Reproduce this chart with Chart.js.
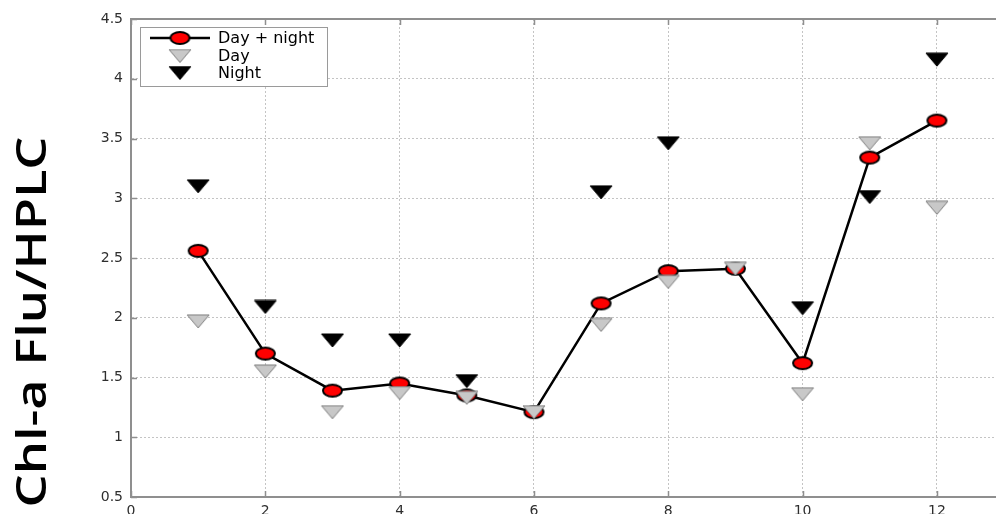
<!DOCTYPE html>
<html>
<head>
<meta charset="utf-8">
<script src="https://cdn.jsdelivr.net/npm/chart.js@4.4.1/dist/chart.umd.min.js"></script>
<style>
  html, body { margin: 0; padding: 0; background: #ffffff; overflow: hidden; }
</style>
</head>
<body>
<canvas id="chlChart" width="996" height="514"></canvas>
<script>
// values (ratio of fluorometer chl-a to HPLC chl-a)
const months = [1, 2, 3, 4, 5, 6, 7, 8, 9, 10, 11, 12];
const dayNightRatio = [2.56, 1.70, 1.39, 1.45, 1.35, 1.21, 2.12, 2.39, 2.41, 1.62, 3.34, 3.65];
const dayRatio = [1.97, 1.55, 1.21, 1.37, 1.33, 1.21, 1.94, 2.30, 2.41, 1.36, 3.46, 2.92];
const nightRatio = [3.10, 2.09, 1.81, 1.81, 1.47, null, 3.05, 3.46, null, 2.08, 3.01, 4.16];
const xTickValues = [0, 2, 4, 6, 8, 10, 12];
const yTickValues = [0.5, 1, 1.5, 2, 2.5, 3, 3.5, 4, 4.5];
const seriesNames = ['Day + night', 'Day', 'Night'];
const yTitle = 'Chl-a Flu/HPLC';

const tickColor = '#2e2e2e';
const axisColor = '#8f8f8f';
const gridColor = '#c4c4c4';

function toPoints(values) {
    return months.map((m, i) => ({ x: m, y: values[i] })).filter(p => p.y !== null);
}

// MATLAB-like markers, a bit stretched like the source picture
function ellipseMarker(w, h) {
    const c = document.createElement('canvas');
    c.width = w + 4;
    c.height = h + 4;
    const g = c.getContext('2d');
    g.beginPath();
    g.ellipse(c.width / 2, c.height / 2, w / 2, h / 2, 0, 0, Math.PI * 2);
    g.fillStyle = '#ff0000';
    g.fill();
    g.lineWidth = 2;
    g.strokeStyle = '#000000';
    g.stroke();
    return c;
}

function triangleMarker(w, h, fill, stroke) {
    const c = document.createElement('canvas');
    c.width = w + 2;
    c.height = h + 2;
    const g = c.getContext('2d');
    g.beginPath();
    g.moveTo(1, 1);
    g.lineTo(w + 1, 1);
    g.lineTo(w / 2 + 1, h + 1);
    g.closePath();
    g.fillStyle = fill;
    g.fill();
    g.lineWidth = 1;
    g.strokeStyle = stroke;
    g.stroke();
    return c;
}

const redDot = ellipseMarker(19, 12);
const dayTri = triangleMarker(22, 13, '#c8c8c8', '#7c7c7c');
const nightTri = triangleMarker(22, 13, '#000000', '#000000');

// frame top line + inward tick marks
const framePlugin = {
    id: 'frame',
    beforeDatasetsDraw(chart) {
        const { ctx, chartArea, scales } = chart;
        ctx.save();
        ctx.strokeStyle = axisColor;
        ctx.lineWidth = 2;
        ctx.beginPath();
        ctx.moveTo(chartArea.left, chartArea.top);
        ctx.lineTo(chartArea.right, chartArea.top);
        ctx.stroke();
        ctx.lineWidth = 1.5;
        ctx.beginPath();
        xTickValues.forEach(v => {
            const px = Math.round(scales.x.getPixelForValue(v)) + 0.5;
            ctx.moveTo(px, chartArea.bottom);
            ctx.lineTo(px, chartArea.bottom - 6);
            ctx.moveTo(px, chartArea.top);
            ctx.lineTo(px, chartArea.top + 6);
        });
        yTickValues.forEach(v => {
            const py = Math.round(scales.y.getPixelForValue(v)) + 0.5;
            ctx.moveTo(chartArea.left, py);
            ctx.lineTo(chartArea.left + 6, py);
        });
        ctx.stroke();
        ctx.restore();
    }
};

// boxed legend in the upper left corner, MATLAB style
const legendPlugin = {
    id: 'boxLegend',
    afterDraw(chart) {
        const { ctx, chartArea } = chart;
        const bx = chartArea.left + 9;
        const by = chartArea.top + 8;
        const bw = 187;
        const bh = 59;
        const rows = [by + 11, by + 29, by + 46];
        const sampleX = bx + 40;
        ctx.save();
        ctx.fillStyle = '#ffffff';
        ctx.fillRect(bx, by, bw, bh);
        ctx.strokeStyle = '#9a9a9a';
        ctx.lineWidth = 1;
        ctx.strokeRect(bx + 0.5, by + 0.5, bw, bh);

        ctx.strokeStyle = '#000000';
        ctx.lineWidth = 2.5;
        ctx.beginPath();
        ctx.moveTo(bx + 10, rows[0]);
        ctx.lineTo(bx + 70, rows[0]);
        ctx.stroke();
        const samples = [redDot, dayTri, nightTri];
        samples.forEach((img, i) => {
            ctx.drawImage(img, sampleX - img.width / 2, rows[i] - img.height / 2);
        });

        ctx.fillStyle = '#000000';
        ctx.font = '16px "DejaVu Sans"';
        ctx.textBaseline = 'middle';
        ctx.textAlign = 'left';
        seriesNames.forEach((name, i) => ctx.fillText(name, bx + 78, rows[i] + 1));
        ctx.restore();
    }
};

// big rotated y title, sits lower than the plot centre in the source
const yTitlePlugin = {
    id: 'yTitle',
    afterDraw(chart) {
        const ctx = chart.ctx;
        ctx.save();
        ctx.font = '600 42px "Open Sans"';
        const w = ctx.measureText(yTitle).width;
        ctx.translate(46, 322);
        ctx.rotate(-Math.PI / 2);
        ctx.scale(371 / w, 1);
        ctx.fillStyle = '#000000';
        ctx.textAlign = 'center';
        ctx.textBaseline = 'alphabetic';
        ctx.fillText(yTitle, 0, 0);
        ctx.restore();
    }
};

const tickFont = { family: '"DejaVu Sans", sans-serif', size: 14, lineHeight: 1 };

const config = {
    type: 'scatter',
    data: {
        datasets: [
            {
                label: seriesNames[0],
                data: toPoints(dayNightRatio),
                showLine: true,
                borderColor: '#000000',
                borderWidth: 2.5,
                tension: 0,
                pointStyle: redDot,
                pointRadius: 8,
                order: 3
            },
            {
                label: seriesNames[1],
                data: toPoints(dayRatio),
                showLine: false,
                pointStyle: dayTri,
                pointRadius: 8,
                order: 2
            },
            {
                label: seriesNames[2],
                data: toPoints(nightRatio),
                showLine: false,
                pointStyle: nightTri,
                pointRadius: 8,
                order: 1
            }
        ]
    },
    options: {
        responsive: false,
        animation: false,
        layout: { autoPadding: false, padding: { top: 19, left: 0, right: 0, bottom: 0 } },
        scales: {
            x: {
                type: 'linear',
                min: 0,
                max: 12.88,
                bounds: 'data',
                afterBuildTicks: scale => { scale.ticks = xTickValues.map(v => ({ value: v })); },
                afterFit: scale => {
                    scale.height = 17;
                    scale.paddingLeft = 0;
                    scale.paddingRight = 0;
                },
                ticks: { color: tickColor, font: tickFont, padding: 7, callback: v => String(v) },
                grid: { color: gridColor, lineWidth: 1, drawTicks: false },
                border: { display: true, color: axisColor, width: 2, dash: [2, 2] }
            },
            y: {
                min: 0.5,
                max: 4.5,
                afterBuildTicks: scale => { scale.ticks = yTickValues.map(v => ({ value: v })); },
                afterFit: scale => {
                    scale.width = 131;
                    scale.paddingTop = 0;
                    scale.paddingBottom = 0;
                },
                ticks: { color: tickColor, font: tickFont, padding: 8, callback: v => String(v) },
                grid: { color: gridColor, lineWidth: 1, drawTicks: false },
                border: { display: true, color: axisColor, width: 2, dash: [2, 2] }
            }
        },
        plugins: {
            legend: { display: false },
            tooltip: { enabled: false }
        }
    },
    plugins: [framePlugin, legendPlugin, yTitlePlugin]
};

const chlCanvas = document.getElementById('chlChart');
if (typeof Chart !== 'undefined') {
    new Chart(chlCanvas, config);
} else {
    console.error('Chart.js library not loaded.');
}
</script>
</body>
</html>
